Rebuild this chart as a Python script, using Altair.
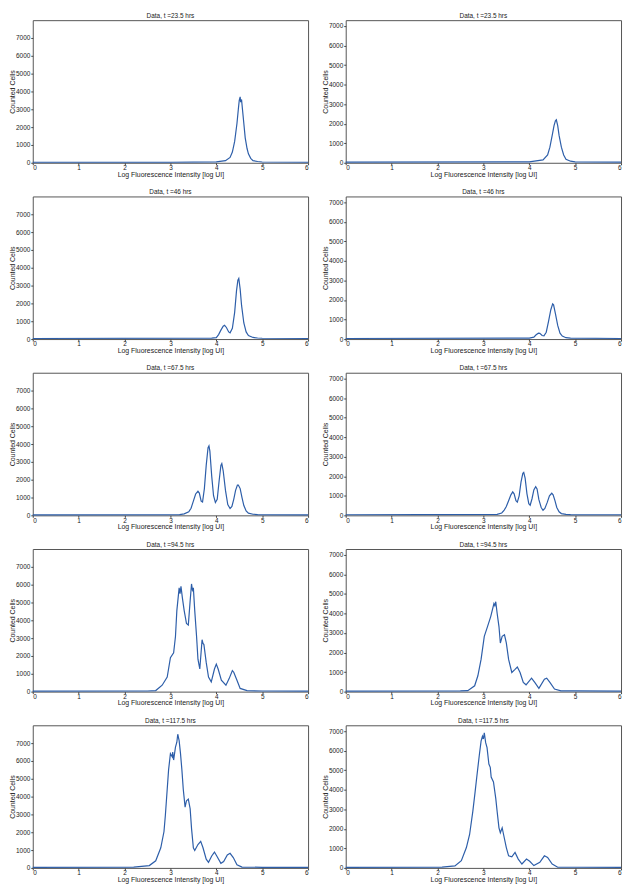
import altair as alt
import pandas as pd

TITLES = ["Data, t =23.5 hrs", "Data, t =46 hrs", "Data, t =67.5 hrs",
          "Data, t =94.5 hrs", "Data, t =117.5 hrs"]
X_TICKS = [0, 1, 2, 3, 4, 5, 6]
Y_TICKS = [0, 1000, 2000, 3000, 4000, 5000, 6000, 7000]
Y_MAX_LEFT = 8000
Y_MAX_RIGHT = 7300

# ---- left column ----
L1_X = [0, 3.0, 4.0, 4.2, 4.3, 4.35, 4.4, 4.45, 4.48, 4.5, 4.52, 4.53, 4.55, 4.57, 4.6, 4.63, 4.67, 4.7, 4.75, 4.8, 4.9, 5.0, 6.0]
L1_Y = [30, 30, 50, 120, 300, 600, 1200, 2200, 3000, 3500, 3700, 3400, 3550, 3000, 2200, 1400, 800, 500, 250, 120, 70, 45, 30]

L2_X = [0, 3.9, 4.0, 4.05, 4.1, 4.15, 4.18, 4.22, 4.27, 4.3, 4.35, 4.4, 4.44, 4.47, 4.49, 4.52, 4.55, 4.6, 4.65, 4.7, 4.8, 4.9, 5.0, 6]
L2_Y = [30, 50, 80, 250, 500, 720, 770, 650, 400, 350, 600, 1500, 2700, 3300, 3400, 2800, 1900, 900, 400, 200, 90, 60, 45, 30]

L3_X = [0, 3.2, 3.3, 3.4, 3.45, 3.5, 3.55, 3.6, 3.63, 3.67, 3.7, 3.74, 3.78, 3.82, 3.84, 3.86, 3.9, 3.94, 3.98, 4.02, 4.06, 4.1, 4.12, 4.15, 4.2, 4.25, 4.3, 4.34, 4.38, 4.42, 4.46, 4.48, 4.52, 4.56, 4.6, 4.65, 4.7, 4.8, 4.9, 6]
L3_Y = [30, 45, 80, 200, 400, 800, 1200, 1350, 1250, 800, 750, 1500, 2800, 3800, 3900, 3600, 2200, 1100, 720, 900, 1900, 2800, 2900, 2500, 1400, 600, 380, 500, 900, 1400, 1700, 1700, 1500, 1000, 550, 250, 120, 60, 45, 30]

L4_X = [0, 2.5, 2.68, 2.82, 2.93, 3.0, 3.07, 3.11, 3.14, 3.19, 3.21, 3.23, 3.26, 3.3, 3.35, 3.39, 3.43, 3.46, 3.48, 3.5, 3.53, 3.57, 3.6, 3.64, 3.69, 3.71, 3.73, 3.78, 3.83, 3.89, 3.96, 4.0, 4.04, 4.11, 4.21, 4.28, 4.35, 4.38, 4.45, 4.52, 4.67, 5.0, 6]
L4_Y = [30, 35, 60, 360, 820, 1900, 2180, 3090, 4545, 5820, 5500, 5900, 5270, 4545, 3820, 3730, 5090, 6040, 5700, 5820, 4545, 3090, 1820, 1270, 2910, 2700, 2640, 1640, 820, 545, 1270, 1545, 1270, 640, 360, 730, 1180, 1090, 640, 180, 55, 35, 30]

L5_X = [0, 2.2, 2.54, 2.68, 2.79, 2.86, 2.89, 2.93, 2.96, 3.0, 3.04, 3.05, 3.07, 3.11, 3.14, 3.16, 3.19, 3.22, 3.25, 3.28, 3.32, 3.35, 3.39, 3.43, 3.46, 3.5, 3.53, 3.6, 3.66, 3.71, 3.78, 3.83, 3.9, 3.96, 4.01, 4.1, 4.16, 4.24, 4.3, 4.37, 4.45, 4.56, 5.0, 6]
L5_Y = [30, 40, 130, 400, 1130, 2040, 2950, 4410, 5500, 6410, 6230, 6500, 6050, 6780, 7050, 7500, 7140, 6410, 5500, 4410, 3410, 3770, 3860, 3320, 2220, 1130, 980, 1310, 1490, 1130, 490, 310, 670, 890, 670, 255, 360, 730, 820, 580, 180, 45, 35, 30]

# ---- right column ----
R1_X = [0, 4.0, 4.3, 4.4, 4.45, 4.5, 4.54, 4.57, 4.59, 4.62, 4.65, 4.7, 4.75, 4.8, 4.9, 5.0, 6]
R1_Y = [30, 45, 150, 400, 800, 1400, 1900, 2150, 2200, 1900, 1400, 800, 400, 180, 80, 45, 30]

R2_X = [0, 4.0, 4.1, 4.15, 4.2, 4.23, 4.28, 4.32, 4.37, 4.42, 4.47, 4.51, 4.53, 4.57, 4.62, 4.67, 4.72, 4.8, 4.9, 6]
R2_Y = [30, 45, 100, 220, 300, 290, 180, 160, 350, 900, 1500, 1800, 1750, 1300, 700, 300, 150, 70, 45, 30]

R3_X = [0, 3.3, 3.4, 3.45, 3.5, 3.55, 3.6, 3.64, 3.67, 3.71, 3.74, 3.78, 3.82, 3.86, 3.88, 3.91, 3.95, 3.99, 4.02, 4.06, 4.1, 4.14, 4.17, 4.21, 4.26, 4.3, 4.34, 4.39, 4.44, 4.49, 4.52, 4.56, 4.6, 4.65, 4.7, 4.8, 4.9, 6]
R3_Y = [30, 50, 120, 250, 450, 750, 1050, 1200, 1100, 750, 680, 1000, 1700, 2150, 2200, 1900, 1100, 600, 520, 850, 1300, 1470, 1350, 800, 400, 260, 350, 650, 1000, 1130, 1050, 750, 400, 180, 90, 50, 40, 30]

R4_X = [0, 2.5, 2.66, 2.81, 2.88, 2.95, 3.02, 3.09, 3.16, 3.23, 3.25, 3.27, 3.3, 3.34, 3.37, 3.41, 3.46, 3.5, 3.55, 3.62, 3.69, 3.74, 3.8, 3.87, 3.93, 4.05, 4.12, 4.21, 4.33, 4.38, 4.45, 4.55, 4.69, 5.0, 6]
R4_Y = [30, 35, 50, 300, 810, 1650, 2830, 3330, 3840, 4510, 4400, 4600, 4010, 3330, 2490, 2830, 2910, 2490, 1650, 980, 1140, 1260, 980, 470, 350, 690, 470, 170, 640, 690, 470, 135, 40, 35, 30]

R5_X = [0, 2.1, 2.38, 2.52, 2.63, 2.7, 2.77, 2.82, 2.86, 2.91, 2.95, 2.98, 3.0, 3.02, 3.05, 3.08, 3.12, 3.15, 3.17, 3.22, 3.27, 3.3, 3.34, 3.37, 3.41, 3.44, 3.5, 3.55, 3.62, 3.69, 3.76, 3.84, 3.94, 4.01, 4.1, 4.23, 4.33, 4.4, 4.5, 4.62, 5.0, 6]
R5_Y = [30, 40, 100, 370, 1040, 1710, 2890, 3890, 4730, 5740, 6490, 6740, 6600, 6910, 6410, 6160, 5320, 5150, 4650, 4400, 3560, 2890, 2050, 1800, 2050, 1710, 1040, 620, 570, 790, 450, 200, 450, 340, 120, 290, 620, 540, 200, 35, 32, 30]

LEFT = [(L1_X, L1_Y), (L2_X, L2_Y), (L3_X, L3_Y), (L4_X, L4_Y), (L5_X, L5_Y)]
RIGHT = [(R1_X, R1_Y), (R2_X, R2_Y), (R3_X, R3_Y), (R4_X, R4_Y), (R5_X, R5_Y)]

FONT = "Liberation Sans"
LINE_COLOR = "#2d5ea9"


def panel(title, xs, ys, ymax):
    df = pd.DataFrame({"x": xs, "y": ys})
    return alt.Chart(
        df,
        title=alt.TitleParams(title, fontSize=6.5, font=FONT, fontWeight="normal",
                              color="#222", offset=1),
    ).mark_line(color=LINE_COLOR, strokeWidth=1.2).encode(
        x=alt.X("x:Q",
                scale=alt.Scale(domain=[0, 6], nice=False, zero=False),
                axis=alt.Axis(values=X_TICKS, title="Log Fluorescence Intensity [log UI]",
                              format="d",
                              grid=False, tickSize=2, labelPadding=0, titlePadding=-1,
                              labelFontSize=6.5, titleFontSize=7, labelFont=FONT,
                              titleFont=FONT, titleFontWeight="normal",
                              domain=False, tickColor="#444", labelColor="#222",
                              titleColor="#222")),
        y=alt.Y("y:Q",
                scale=alt.Scale(domain=[0, ymax], nice=False),
                axis=alt.Axis(values=Y_TICKS, title="Counted Cells", format="d",
                              grid=False, tickSize=2, labelPadding=1, titlePadding=0,
                              labelFontSize=6.5, titleFontSize=7, labelFont=FONT,
                              titleFont=FONT, titleFontWeight="normal",
                              domain=False, tickColor="#444", labelColor="#222",
                              titleColor="#222")),
    ).properties(width=278, height=144)


rows = []
for i, t in enumerate(TITLES):
    left = panel(t, LEFT[i][0], LEFT[i][1], Y_MAX_LEFT)
    right = panel(t, RIGHT[i][0], RIGHT[i][1], Y_MAX_RIGHT)
    rows.append(alt.hconcat(left, right, spacing=10))

chart = alt.vconcat(*rows, spacing=11).properties(
    padding={"left": 0, "top": 0, "right": 0, "bottom": 0},
    background="white",
).configure_view(stroke="#555", strokeWidth=1)

chart.save("out.html", embed_options={"renderer": "svg", "actions": False})
